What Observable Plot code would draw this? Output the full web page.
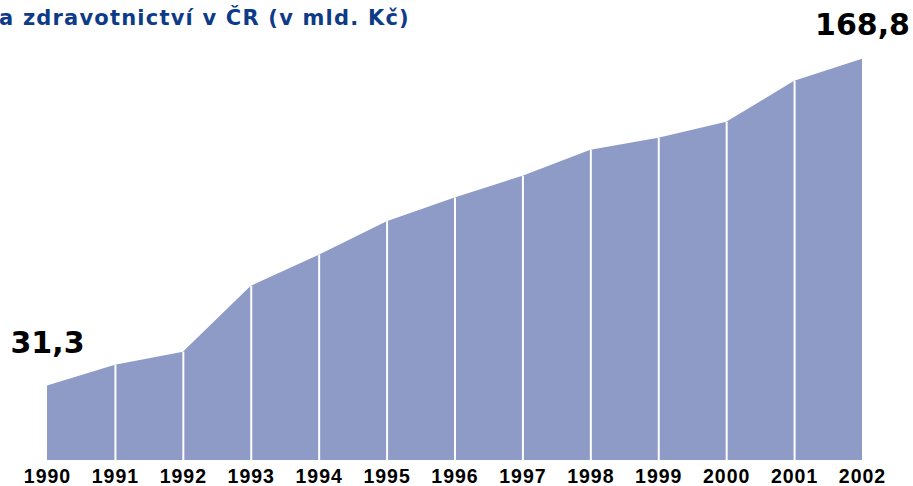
<!DOCTYPE html>
<html>
<head>
<meta charset="utf-8">
<script src="https://cdn.jsdelivr.net/npm/d3@7"></script>
<script src="https://cdn.jsdelivr.net/npm/@observablehq/plot@0.6"></script>
<style>
  html, body { margin: 0; padding: 0; background: #fff; }
  #wrap { position: relative; width: 913px; height: 486px; overflow: hidden; }
  #title { position: absolute; left: -1px; top: 8px; line-height: 20px; font-family: "DejaVu Sans", sans-serif; font-weight: 700; font-size: 21px; letter-spacing: 1.2px; color: #0d3b87; white-space: nowrap; z-index: 2; }
  #chart svg g[aria-label="x-axis tick label"] text { letter-spacing: 1px; }
</style>
</head>
<body>
<div id="wrap">
  <div id="title">a zdravotnictví v ČR (v mld. Kč)</div>
  <div id="chart"></div>
</div>
<script>
const years = [1990, 1991, 1992, 1993, 1994, 1995, 1996, 1997, 1998, 1999, 2000, 2001, 2002];
const values = [31.3, 40.1, 45.6, 73.3, 86.4, 100.5, 110.5, 119.6, 130.5, 135.6, 142.3, 159.6, 168.8];
const valueLabels = [
  {year: 1990, value: 31.3, text: "31,3"},
  {year: 2002, value: 168.8, text: "168,8"}
];

const data = years.map((y, i) => ({year: y, value: values[i]}));
const inner = data.slice(1, -1);

const chart = Plot.plot({
  width: 913,
  height: 486,
  marginLeft: 47,
  marginRight: 51,
  marginTop: 56,
  marginBottom: 26,
  x: {type: "linear", domain: [1990, 2002]},
  y: {domain: [0, 170], axis: null},
  style: {background: "#fff"},
  marks: [
    Plot.areaY(data, {x: "year", y: "value", fill: "#8f9bc7"}),
    Plot.ruleX(inner, {x: "year", y1: 0, y2: "value", stroke: "#ffffff", strokeWidth: 2}),
    Plot.axisX({
      ticks: years,
      tickFormat: d => String(d),
      tickSize: 0,
      tickPadding: 9,
      fontSize: 19.5,
      fontWeight: "bold",
      fontFamily: "Liberation Sans, Arial, sans-serif",
      fill: "#000",
      label: null
    }),
    Plot.text([valueLabels[0]], {x: "year", y: "value", text: "text", dy: -43, fontSize: 30, fontWeight: "bold", fontFamily: "DejaVu Sans, sans-serif", fill: "#000", textAnchor: "middle"}),
    Plot.text([valueLabels[1]], {x: "year", y: "value", text: "text", dy: -34, fontSize: 30, fontWeight: "bold", fontFamily: "DejaVu Sans, sans-serif", fill: "#000", textAnchor: "middle"})
  ]
});
document.getElementById("chart").appendChild(chart);
</script>
</body>
</html>
